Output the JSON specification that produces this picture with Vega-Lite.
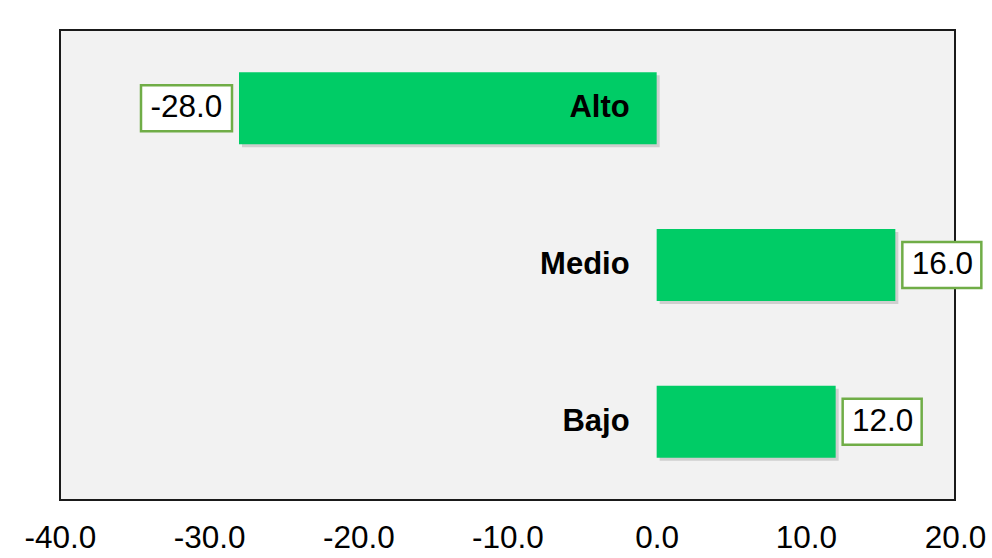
{
  "$schema": "https://vega.github.io/schema/vega-lite/v6.json",
  "width": 895,
  "height": 470,
  "autosize": {"type": "none"},
  "padding": {"left": 60, "top": 30, "right": 37, "bottom": 58},
  "background": "white",
  "config": {
    "view": {"fill": "#f2f2f2", "stroke": "#1a1a1a", "strokeWidth": 2},
    "font": "Liberation Sans"
  },
  "data": {
    "values": [
      {"nivel": "Alto", "valor": -28.0, "etiqueta": "-28.0"},
      {"nivel": "Medio", "valor": 16.0, "etiqueta": "16.0"},
      {"nivel": "Bajo", "valor": 12.0, "etiqueta": "12.0"}
    ]
  },
  "encoding": {
    "y": {
      "field": "nivel",
      "type": "nominal",
      "sort": ["Alto", "Medio", "Bajo"],
      "axis": null,
      "scale": {"paddingInner": 0.54, "paddingOuter": 0.27}
    }
  },
  "layer": [
    {
      "mark": {"type": "bar", "height": 72, "color": "#7f7f7f", "opacity": 0.3, "xOffset": 3, "x2Offset": 3, "yOffset": 3},
      "encoding": {
        "x": {
          "field": "valor",
          "type": "quantitative",
          "scale": {"domain": [-40, 20], "nice": false, "zero": false},
          "axis": {
            "values": [-40, -30, -20, -10, 0, 10, 20],
            "labelExpr": "replace(format(datum.value, '.1f'), '\u2212', '-')",
            "title": null,
            "grid": false,
            "ticks": false,
            "domain": false,
            "labelFontSize": 31.5,
            "labelColor": "black",
            "labelPadding": 22,
            "labelFlush": false,
            "labelOverlap": false,
            "labelFont": "Liberation Sans"
          }
        }
      }
    },
    {
      "mark": {"type": "bar", "height": 72, "color": "#00cc66"},
      "encoding": {
        "x": {"field": "valor", "type": "quantitative"}
      }
    },
    {
      "mark": {"type": "rule", "color": "#d9d9d9", "strokeWidth": 2},
      "encoding": {"x": {"datum": 0, "type": "quantitative"}}
    },
    {
      "mark": {"type": "text", "align": "right", "baseline": "middle", "fontWeight": "bold", "fontSize": 31, "color": "black", "xOffset": -27},
      "encoding": {
        "x": {"datum": 0, "type": "quantitative"},
        "text": {"field": "nivel"}
      }
    },
    {
      "transform": [{"filter": "datum.valor < 0"}],
      "mark": {"type": "bar", "height": 46, "fill": "white", "stroke": "#70ad47", "strokeWidth": 2.5, "xOffset": -98, "x2Offset": -7},
      "encoding": {
        "x": {"field": "valor", "type": "quantitative"},
        "x2": {"field": "valor"}
      }
    },
    {
      "transform": [{"filter": "datum.valor >= 0"}],
      "mark": {"type": "bar", "height": 46, "fill": "white", "stroke": "#70ad47", "strokeWidth": 2.5, "xOffset": 7, "x2Offset": 86},
      "encoding": {
        "x": {"field": "valor", "type": "quantitative"},
        "x2": {"field": "valor"}
      }
    },
    {
      "transform": [{"filter": "datum.valor < 0"}],
      "mark": {"type": "text", "align": "center", "baseline": "middle", "fontSize": 31.5, "color": "black", "xOffset": -52.5},
      "encoding": {
        "x": {"field": "valor", "type": "quantitative"},
        "text": {"field": "etiqueta"}
      }
    },
    {
      "transform": [{"filter": "datum.valor >= 0"}],
      "mark": {"type": "text", "align": "center", "baseline": "middle", "fontSize": 31.5, "color": "black", "xOffset": 47},
      "encoding": {
        "x": {"field": "valor", "type": "quantitative"},
        "text": {"field": "etiqueta"}
      }
    }
  ]
}
